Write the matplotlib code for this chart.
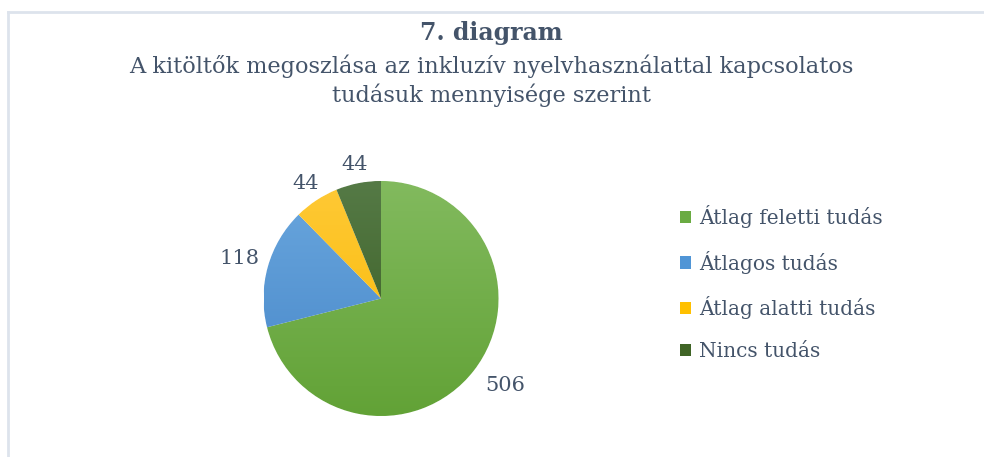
import numpy as np
import matplotlib
matplotlib.use("Agg")
import matplotlib.pyplot as plt
from matplotlib.colors import LinearSegmentedColormap
from matplotlib.lines import Line2D
from matplotlib.patches import Patch

categories = ["Átlag feletti tudás", "Átlagos tudás", "Átlag alatti tudás", "Nincs tudás"]
values = [506, 118, 44, 44]
base_colors = ["#6AAB42", "#5095D6", "#FFC000", "#3F6426"]
top_colors = ["#82BA5E", "#6AA7DE", "#FFC936", "#557A46"]
bottom_colors = ["#62A236", "#4686C8", "#F7B900", "#375A1E"]

title = "7. diagram"
subtitle = "A kitöltők megoszlása az inkluzív nyelvhasználattal kapcsolatos\ntudásuk mennyisége szerint"
text_color = "#44546A"
font = ["DejaVu Serif"]

fig = plt.figure(figsize=(9.84, 4.57), dpi=100)
W, H = 984, 457

# frame lines (top and left)
fig.add_artist(Line2D([8 / W, 1.0], [1 - 11.5 / H, 1 - 11.5 / H], color="#DDE3EC", lw=2, transform=fig.transFigure))
fig.add_artist(Line2D([8 / W, 8 / W], [0, 1 - 11.5 / H], color="#DDE3EC", lw=2, transform=fig.transFigure))

fig.text(491 / W, 1 - 33 / H, title, ha="center", va="center", fontsize=17, fontweight="bold",
         color=text_color, family=font)
fig.text(491 / W, 1 - 81 / H, subtitle, ha="center", va="center", fontsize=16.2, color=text_color,
         family=font, linespacing=1.28)

cx, cy, r = 381, 298.5, 117.5
ax = fig.add_axes([(cx - r) / W, (H - cy - r) / H, 2 * r / W, 2 * r / H])
wedges, texts = ax.pie(values, labels=[str(v) for v in values], startangle=90, counterclock=False,
                       colors=base_colors, labeldistance=1.2,
                       textprops=dict(fontsize=15, color=text_color, family=font),
                       wedgeprops=dict(linewidth=0.8, edgecolor="white"))

# gradient fills clipped to wedges
for w, tc, bc in zip(wedges, top_colors, bottom_colors):
    cmap = LinearSegmentedColormap.from_list("g", [bc, tc])
    grad = np.linspace(0, 1, 256).reshape(-1, 1)
    im = ax.imshow(grad, cmap=cmap, origin="lower", extent=[-1, 1, -1, 1], aspect="auto",
                   zorder=w.get_zorder() + 0.1)
    im.set_clip_path(w)
ax.set_xlim(-1, 1)
ax.set_ylim(-1, 1)
ax.set_aspect("equal")

# label placement tweaks (Excel outside-end style)
scale = [1.07, 1.04, 0.975, 0.97]
for t, s in zip(texts, scale):
    t.set_ha("center")
    t.set_va("center")
    t.set_position(np.array(t.get_position()) * s)
x0, y0 = texts[0].get_position()
texts[0].set_position((x0 + 0.04, y0 + 0.05))

handles = [Patch(facecolor=c, edgecolor="none") for c in base_colors]
leg = fig.legend(handles, categories, loc="upper left", bbox_to_anchor=(662 / W, 1 - 187 / H),
                 frameon=False, prop=dict(family=font, size=14.5), labelcolor=text_color,
                 handlelength=0.55, handleheight=0.55, handletextpad=0.4, labelspacing=1.12)

fig.savefig("out.png", dpi=100)
